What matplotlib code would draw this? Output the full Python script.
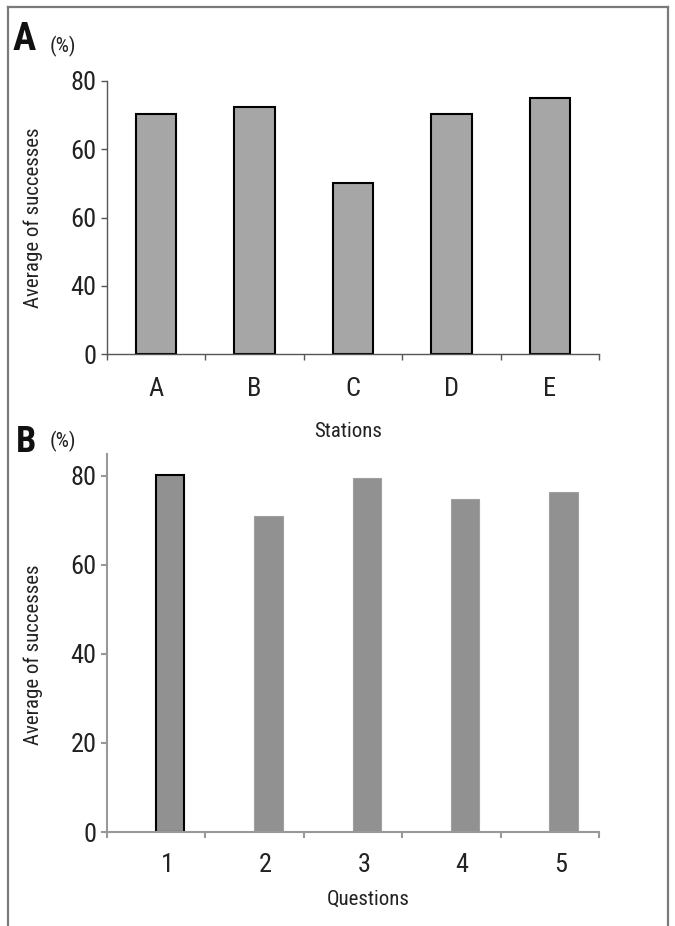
import numpy as np
import matplotlib
matplotlib.use('Agg')
import matplotlib.pyplot as plt
from matplotlib import font_manager
from matplotlib.lines import Line2D

# 数据
stations = ['A', 'B', 'C', 'D', 'E']
station_vals = [70.3, 72.2, 50.2, 70.3, 75.0]
station_yticks = [0, 20, 40, 60, 80]
station_ytick_labels = ['0', '40', '60', '60', '80']  # as printed in the figure

questions = ['1', '2', '3', '4', '5']
question_vals = [80.2, 70.9, 79.4, 74.9, 76.3]
question_yticks = [0, 20, 40, 60, 80]

# 字体：优先窄体
names = {f.name for f in font_manager.fontManager.ttflist}
font = 'DejaVu Sans'
for cand in ['Roboto Condensed', 'Liberation Sans Narrow', 'DejaVu Sans Condensed']:
    if cand in names:
        font = cand
        break
plt.rcParams['font.family'] = [font, 'DejaVu Sans']
txt = '#222222'

W, H = 675, 926
fig = plt.figure(figsize=(W/100, H/100), dpi=100)

# 外框（底部开口）
fc = '#7a7a7a'
fig.add_artist(Line2D([8/W, 8/W], [0, 1-7/H], color=fc, lw=1.6))
fig.add_artist(Line2D([8/W, 668/W], [1-7/H, 1-7/H], color=fc, lw=1.6))
fig.add_artist(Line2D([668/W, 668/W], [0, 1-7/H], color=fc, lw=1.6))

def setup(ax, spine_col, spine_lw, xpad):
    for s in ['top', 'right']:
        ax.spines[s].set_visible(False)
    for s in ['left', 'bottom']:
        ax.spines[s].set_color(spine_col)
        ax.spines[s].set_linewidth(spine_lw)
    ax.set_xlim(-0.5, 4.5)
    ax.set_xticks(np.arange(-0.5, 5, 1), minor=True)
    ax.tick_params(axis='x', which='minor', length=4, width=spine_lw, color=spine_col, direction='out')
    ax.tick_params(axis='x', which='major', length=0, labelsize=19, labelcolor=txt, pad=xpad)
    ax.tick_params(axis='y', length=4.5, width=spine_lw, color=spine_col, labelsize=19, labelcolor=txt, pad=3)

# 图A
axA = fig.add_axes([107/W, 1-354.3/H, 492/W, 273.6/H])
x = np.arange(len(stations))
axA.bar(x, station_vals, width=0.41, color='#a6a6a6', edgecolor='black', linewidth=1.5)
setup(axA, '#555555', 1.0, 16)
axA.set_ylim(0, 80)
axA.set_yticks(station_yticks)
axA.set_yticklabels(station_ytick_labels)
axA.set_xticks(x)
axA.set_xticklabels(stations)
axA.set_ylabel('Average of successes', fontsize=15, color=txt)
axA.yaxis.set_label_coords(-0.13, 0.5)
axA.set_xlabel('Stations', fontsize=15, color=txt)
axA.xaxis.set_label_coords(0.49, -0.249)

# 图B
axB = fig.add_axes([107/W, 1-832/H, 492/W, 378/H])
xq = np.arange(len(questions))
edges = ['black'] + ['#a0a0a0'] * (len(questions) - 1)
lws = [1.5] + [0.8] * (len(questions) - 1)
axB.bar(xq + 0.14, question_vals, width=0.29, color='#919191', edgecolor=edges, linewidth=lws)
setup(axB, '#999999', 1.5, 15)
axB.set_ylim(0, 84.9)
axB.set_yticks(question_yticks)
axB.set_xticks(xq + 0.11)
axB.set_xticklabels(questions)
axB.set_ylabel('Average of successes', fontsize=15, color=txt)
axB.yaxis.set_label_coords(-0.13, 0.468)
axB.set_xlabel('Questions', fontsize=15, color=txt)
axB.xaxis.set_label_coords(0.53, -0.153)

# 面板字母
fig.text(13/W, 1-50/H, 'A', fontsize=28, fontweight='bold', color='#111111', va='baseline')
fig.text(50/W, 1-52/H, '(%)', fontsize=15, color=txt, va='baseline')
fig.text(16/W, 1-452/H, 'B', fontsize=26, fontweight='bold', color='#111111', va='baseline')
fig.text(50/W, 1-447/H, '(%)', fontsize=15, color=txt, va='baseline')

plt.savefig('out.png', dpi=100)
